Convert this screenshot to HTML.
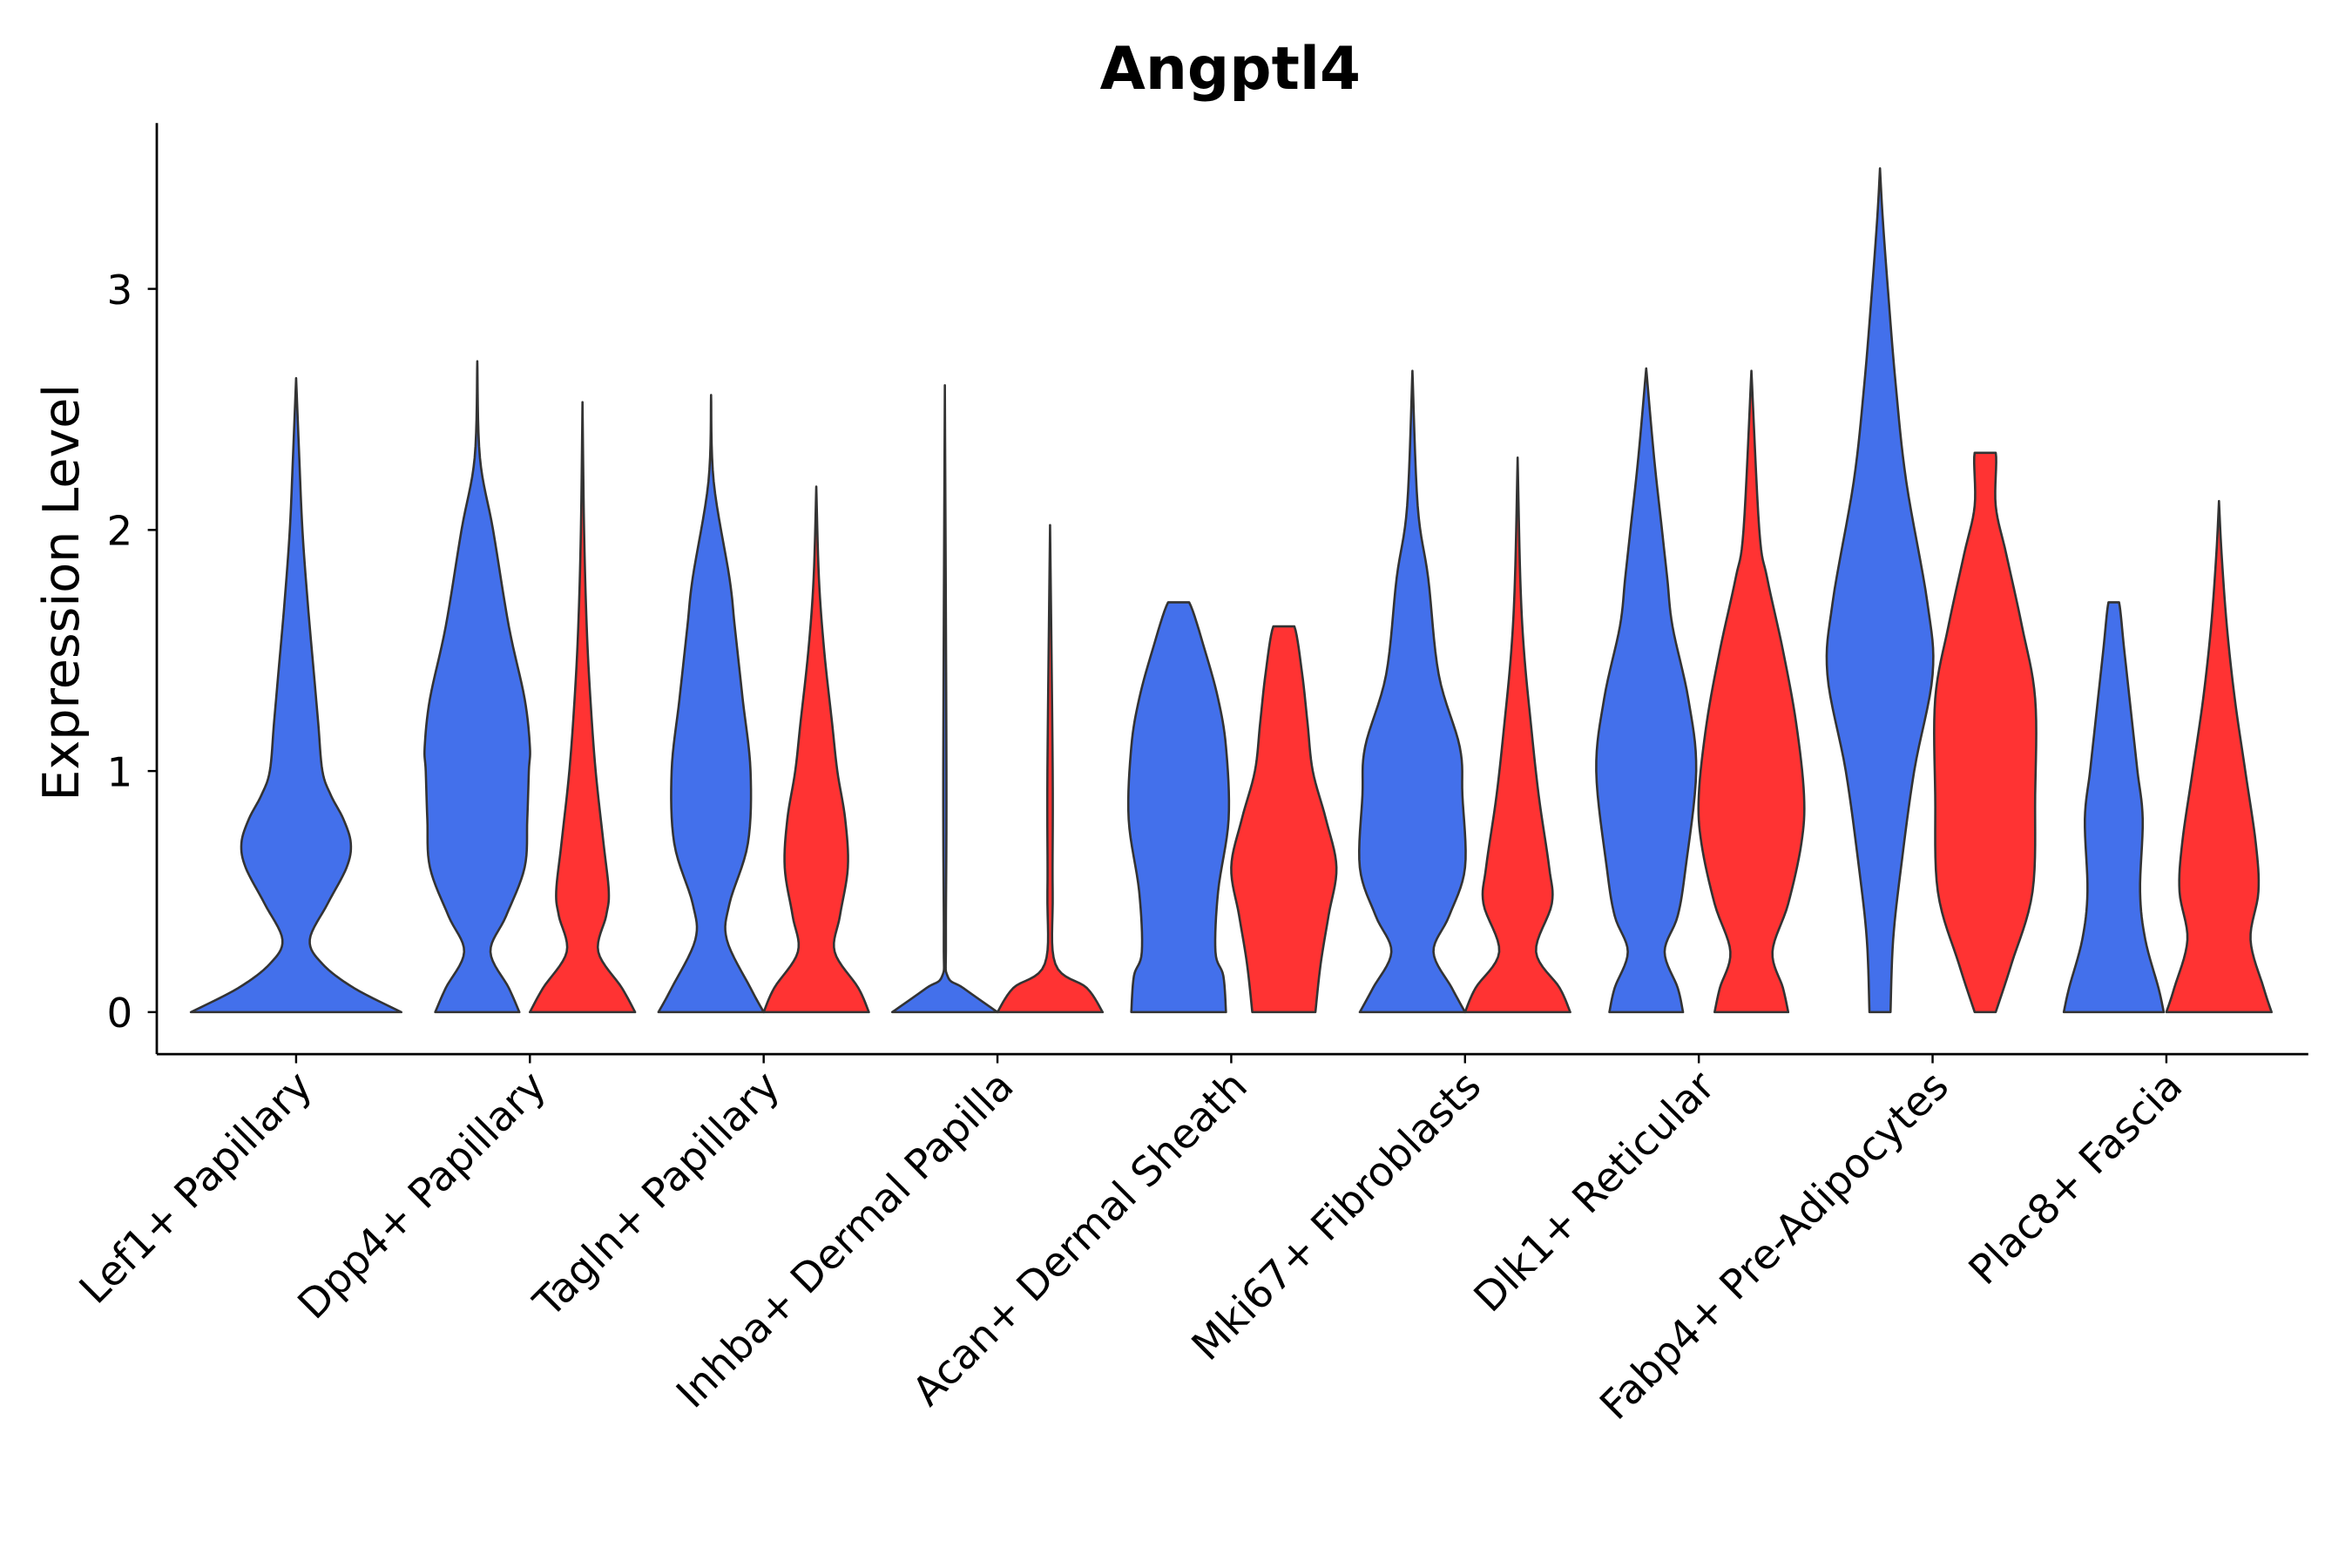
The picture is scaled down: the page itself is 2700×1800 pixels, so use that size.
<!DOCTYPE html>
<html><head><meta charset="utf-8"><style>html,body{margin:0;padding:0;background:#fff}svg{display:block}</style></head>
<body>
<svg id="chart" width="2700" height="1800" viewBox="0 0 1560 1040" xmlns="http://www.w3.org/2000/svg" font-family="'DejaVu Sans','Liberation Sans',sans-serif">
<rect width="1560" height="1040" fill="#fff"/>
<text x="816" y="59" text-anchor="middle" font-size="39" font-weight="bold">Angptl4</text>
<text transform="translate(52,393) rotate(-90)" text-anchor="middle" font-size="33">Expression Level</text>
<g id="axes"></g>
<g id="violins"></g>
</svg>
<script>
const categories = ["Lef1+ Papillary","Dpp4+ Papillary","Tagln+ Papillary","Inhba+ Dermal Papilla","Acan+ Dermal Sheath","Mki67+ Fibroblasts","Dlk1+ Reticular","Fabp4+ Pre-Adipocytes","Plac8+ Fascia"];
const yTicks = [0,1,2,3];
// each violin profile: [expression, relative half-width]
const blueProfiles = [
 [[0,1],[0.1,0.55],[0.2,0.25],[0.3,0.13],[0.45,0.3],[0.6,0.48],[0.7,0.52],[0.8,0.45],[0.9,0.33],[1.0,0.25],[1.2,0.21],[1.4,0.17],[1.7,0.11],[2.0,0.06],[2.3,0.03],[2.63,0]],
 [[0,0.8],[0.1,0.6],[0.25,0.25],[0.4,0.55],[0.6,0.9],[0.8,0.95],[1.0,0.98],[1.1,1.0],[1.3,0.9],[1.6,0.6],[2.0,0.3],[2.3,0.05],[2.7,0]],
 [[0,1],[0.1,0.75],[0.3,0.3],[0.45,0.35],[0.7,0.7],[1.0,0.75],[1.3,0.6],[1.6,0.45],[1.8,0.35],[2.2,0.05],[2.56,0]],
 [[0,1],[0.1,0.35],[0.15,0.05],[0.3,0.02],[1.0,0.03],[2.6,0]],
 [[0,0.9],[0.15,0.85],[0.25,0.7],[0.5,0.75],[0.8,0.95],[1.1,0.9],[1.3,0.75],[1.5,0.5],[1.7,0.2],[1.7,0]],
 [[0,1],[0.1,0.75],[0.25,0.4],[0.4,0.7],[0.6,1.0],[0.9,0.95],[1.1,0.9],[1.4,0.5],[1.8,0.3],[2.1,0.1],[2.66,0]],
 [[0,0.7],[0.1,0.6],[0.25,0.35],[0.4,0.6],[0.6,0.75],[1.0,0.95],[1.3,0.8],[1.6,0.5],[1.8,0.4],[2.0,0.3],[2.3,0.15],[2.67,0]],
 [[0,0.2],[0.3,0.25],[0.6,0.4],[1.0,0.65],[1.4,1.0],[1.7,0.9],[2.2,0.5],[2.6,0.3],[3.0,0.15],[3.3,0.05],[3.5,0]],
 [[0,0.95],[0.1,0.85],[0.3,0.6],[0.5,0.5],[0.8,0.55],[1.0,0.45],[1.2,0.35],[1.5,0.2],[1.7,0.1],[1.7,0]]
];
const redProfiles = [
 null,
 [[0,1],[0.1,0.75],[0.25,0.3],[0.4,0.45],[0.5,0.5],[0.7,0.4],[1.0,0.25],[1.3,0.15],[1.6,0.08],[2.0,0.03],[2.53,0]],
 [[0,1],[0.1,0.8],[0.25,0.35],[0.4,0.45],[0.6,0.6],[0.8,0.55],[1.0,0.4],[1.2,0.3],[1.5,0.15],[1.8,0.05],[2.18,0]],
 [[0,1],[0.1,0.7],[0.2,0.1],[0.5,0.05],[1.0,0.05],[2.02,0]],
 [[0,0.6],[0.2,0.7],[0.4,0.85],[0.6,1.0],[0.8,0.8],[1.0,0.55],[1.2,0.45],[1.4,0.35],[1.6,0.2],[1.6,0]],
 [[0,1],[0.1,0.8],[0.25,0.35],[0.45,0.65],[0.6,0.6],[0.9,0.4],[1.2,0.25],[1.5,0.12],[1.8,0.05],[2.3,0]],
 [[0,0.7],[0.1,0.6],[0.25,0.4],[0.45,0.7],[0.7,0.95],[0.9,1.0],[1.2,0.85],[1.5,0.6],[1.8,0.3],[2.0,0.15],[2.66,0]],
 [[0,0.2],[0.2,0.5],[0.5,0.9],[0.9,0.95],[1.3,0.95],[1.6,0.7],[1.9,0.4],[2.1,0.2],[2.32,0.2],[2.32,0]],
 [[0,1],[0.1,0.85],[0.3,0.6],[0.5,0.75],[0.7,0.7],[1.0,0.5],[1.3,0.3],[1.6,0.15],[1.9,0.05],[2.12,0]]
];
const NS="http://www.w3.org/2000/svg";
const y0=671.3, unit=159.9, x0=196.4, step=155.06;
const axisY=699.2, axisX=104, axisRight=1531, axisTop=81.6;
const yScale=v=>y0-v*unit;
const xScale=i=>x0+i*step;
const axes=document.getElementById('axes'), vg=document.getElementById('violins');
function mk(t,a,p){const e=document.createElementNS(NS,t);for(const k in a)e.setAttribute(k,a[k]);p.appendChild(e);return e;}
let l=mk('line',{x1:axisX,y1:axisTop,x2:axisX,y2:axisY,stroke:'#000','stroke-width':1.6},axes);


l=mk('line',{x1:axisX,y1:axisY,x2:axisRight,y2:axisY,stroke:'#000','stroke-width':1.6},axes);


yTicks.forEach(v=>{
 const t=mk('line',{x1:axisX-6,x2:axisX,y1:yScale(v),y2:yScale(v),stroke:'#000','stroke-width':1.4},axes);
 
 
 const tx=mk('text',{x:88,y:yScale(v)+10,'text-anchor':'end','font-size':27},axes);
 tx.textContent=v;
 
 
});
categories.forEach((c,i)=>{
 const x=xScale(i);
 const t=mk('line',{x1:x,x2:x,y1:axisY,y2:axisY+6,stroke:'#000','stroke-width':1.4},axes);
 
 
 const tx=mk('text',{transform:`translate(${x+12},${722}) rotate(-45)`,'text-anchor':'end','font-size':27},axes);
 tx.textContent=c;
 
 
});
function smoothPts(pts){
 const out=[];
 for(let i=0;i<pts.length-1;i++){
  const p1=pts[i],p2=pts[i+1];
  if(p1[0]===p2[0]){out.push(p1);continue;}
  const p0=pts[Math.max(0,i-1)],p3=pts[Math.min(pts.length-1,i+2)];
  const flatTop = p3[0]===p2[0];
  for(let s=0;s<8;s++){const t=s/8,t2=t*t,t3=t2*t;
   const f=(a,b,c,d)=>0.5*((2*b)+(-a+c)*t+(2*a-5*b+4*c-d)*t2+(-a+3*b-3*c+d)*t3);
   let yv=f(p0[0],p1[0],p2[0],p3[0]);
   if(flatTop) yv=Math.min(yv,p2[0]);
   out.push([yv,Math.max(0,f(p0[1],p1[1],p2[1],p3[1]))]);}
 }
 out.push(pts[pts.length-1]);return out;
}
function violin(prof,cx,half,color,name){
 const s=smoothPts(prof);
 let d='';
 s.forEach((p,k)=>{d+=(k?'L':'M')+(cx+p[1]*half).toFixed(2)+','+yScale(p[0]).toFixed(2);});
 for(let k=s.length-1;k>=0;k--){const p=s[k];d+='L'+(cx-p[1]*half).toFixed(2)+','+yScale(p[0]).toFixed(2);}
 d+='Z';
 const e=mk('path',{d:d,fill:color,stroke:'#333','stroke-width':1.5,'stroke-linejoin':'round'},vg);
 
 
}
const off=step*0.225;
categories.forEach((c,i)=>{
 const x=xScale(i);
 if(!redProfiles[i]){violin(blueProfiles[i],x,2*off,'#4370eb','violin-blue');}
 else{violin(blueProfiles[i],x-off,off,'#4370eb','violin-blue');violin(redProfiles[i],x+off,off,'#ff3333','violin-red');}
});
</script>
</body></html>
